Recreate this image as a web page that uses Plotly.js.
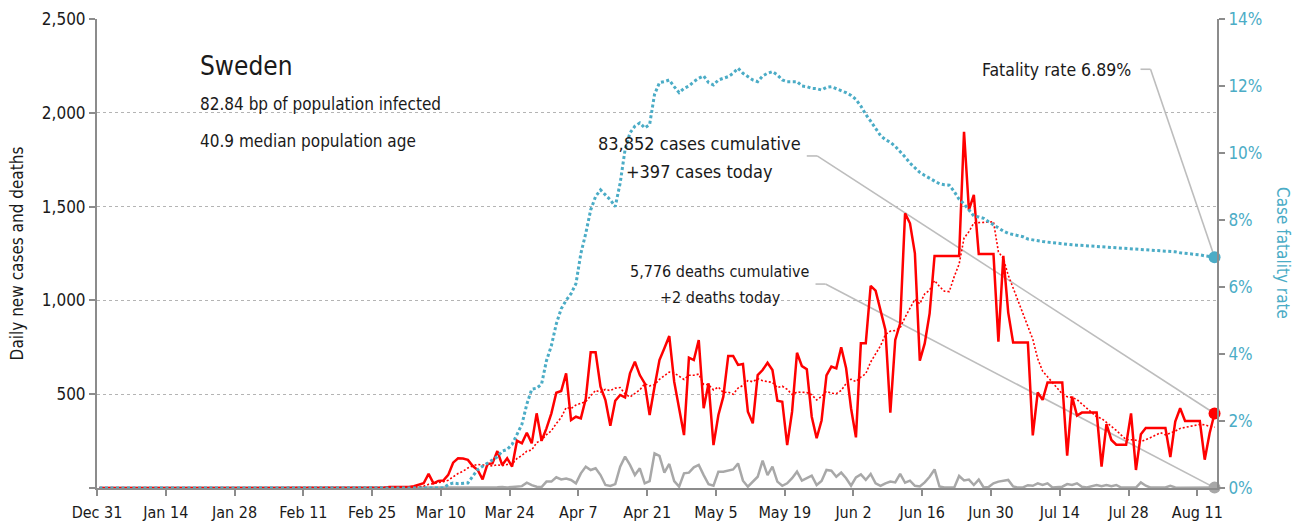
<!DOCTYPE html>
<html>
<head>
<meta charset="utf-8">
<script src="https://cdn.plot.ly/plotly-3.0.1.min.js"></script>
<style>html,body{margin:0;padding:0;background:#fff;}#chart{width:1314px;height:526px;}</style>
</head>
<body>
<div id="chart"></div>
<script>
// ---- Data (daily, starting 2019-12-31) ----
const startDate = '2019-12-31';

const dailyCases = [
  0,0,0,0,0,0,0,0,0,0,
  0,0,0,0,0,0,0,0,0,0,
  0,0,0,0,0,0,0,0,0,0,
  0,0,1,0,0,0,0,0,0,0,
  0,0,0,0,0,0,0,0,0,0,
  0,0,0,0,0,0,0,1,1,5,
  5,2,1,5,10,18,25,75,25,38,
  40,70,135,158,157,150,117,96,46,128,
  131,197,122,158,114,252,238,295,238,398,
  252,318,398,508,517,611,362,380,371,475,
  723,723,540,469,332,465,496,483,611,673,
  602,558,389,540,682,745,810,567,425,282,
  695,682,789,425,558,229,389,487,704,704,
  656,661,407,345,602,629,668,629,465,460,
  229,407,721,650,633,380,265,360,600,647,
  638,750,638,425,270,771,771,1077,1052,940,
  842,402,789,878,1464,1411,1251,679,771,931,
  1237,1237,1237,1237,1237,1237,1899,1482,1562,1247,
  1247,1247,1247,780,1237,935,775,775,775,775,
  280,510,470,563,563,563,563,173,487,386,
  402,402,402,402,114,340,256,231,231,231,
  398,96,287,320,320,320,320,320,165,354,
  425,357,357,357,357,151,292,397
];

const dailyDeaths = [
  0,0,0,0,0,0,0,0,0,0,
  0,0,0,0,0,0,0,0,0,0,
  0,0,0,0,0,0,0,0,0,0,
  0,0,0,0,0,0,0,0,0,0,
  0,0,0,0,0,0,0,0,0,0,
  0,0,0,0,0,0,0,0,0,0,
  0,0,0,0,0,0,0,0,0,0,
  0,1,0,1,0,1,2,3,1,3,
  2,4,5,3,5,7,10,28,15,7,
  5,34,34,57,46,50,43,25,78,114,
  96,105,69,16,11,21,114,167,123,69,
  105,25,37,185,171,82,128,37,7,78,
  82,110,123,69,20,12,87,87,92,99,
  131,39,7,34,60,146,69,114,34,12,
  25,52,87,39,52,66,16,37,96,92,
  60,82,52,12,57,73,43,75,25,11,
  25,34,30,75,28,39,12,8,30,60,
  99,8,3,2,2,64,40,45,16,45,
  3,5,25,34,39,43,8,2,3,15,
  12,25,16,25,3,7,7,21,16,25,
  7,3,10,16,10,16,10,16,2,1,
  3,2,30,12,2,1,1,3,12,3,
  1,1,5,1,1,3,1,2
];

const fatalityRate = [
  0,0,0,0,0,0,0,0,0,0,
  0,0,0,0,0,0,0,0,0,0,
  0,0,0,0,0,0,0,0,0,0,
  0,0,0,0,0,0,0,0,0,0,
  0,0,0,0,0,0,0,0,0,0,
  0,0,0,0,0,0,0,0,0,0,
  0,0,0,0,0,0,0,0,0,0,
  0,0.1,0.15,0.13,0.13,0.15,0.35,0.55,0.65,0.75,
  0.85,0.93,1.1,1.15,1.3,1.6,1.9,2.5,2.95,2.98,
  3.1,3.8,4.25,4.9,5.35,5.6,5.8,6.1,7.0,7.6,
  8.3,8.7,8.9,8.75,8.6,8.4,9.1,10.1,10.6,10.8,
  10.9,10.75,10.85,11.75,12.1,12.13,12.18,11.98,11.8,11.93,
  12.0,12.13,12.23,12.3,12.1,12.03,12.18,12.23,12.28,12.38,
  12.53,12.38,12.28,12.18,12.13,12.3,12.38,12.43,12.33,12.18,
  12.13,12.13,12.13,12.0,11.98,11.93,11.92,11.88,11.96,11.98,
  11.92,11.87,11.8,11.72,11.6,11.4,11.15,10.95,10.72,10.52,
  10.4,10.32,10.2,10.05,9.88,9.7,9.55,9.42,9.33,9.25,
  9.18,9.08,9.05,9.04,8.85,8.62,8.48,8.3,8.12,8.09,
  8.05,7.95,7.85,7.75,7.67,7.6,7.57,7.55,7.5,7.43,
  7.4,7.37,7.36,7.34,7.32,7.31,7.3,7.28,7.26,7.25,
  7.24,7.23,7.22,7.21,7.2,7.2,7.19,7.18,7.18,7.16,
  7.15,7.14,7.13,7.12,7.11,7.09,7.08,7.07,7.06,7.05,
  7.02,7.01,6.99,6.98,6.96,6.93,6.91,6.89
];

const tickDates = ['2019-12-31','2020-01-14','2020-01-28','2020-02-11','2020-02-25','2020-03-10','2020-03-24','2020-04-07','2020-04-21','2020-05-05','2020-05-19','2020-06-02','2020-06-16','2020-06-30','2020-07-14','2020-07-28','2020-08-11'];
const tickLabels = ['Dec 31','Jan 14','Jan 28','Feb 11','Feb 25','Mar 10','Mar 24','Apr 7','Apr 21','May 5','May 19','Jun 2','Jun 16','Jun 30','Jul 14','Jul 28','Aug 11'];
const leftTicks = [0,500,1000,1500,2000,2500];
const leftLabels = ['','500','1,000','1,500','2,000','2,500'];
const rightTicks = [0,2,4,6,8,10,12,14];
const rightLabels = ['0%','2%','4%','6%','8%','10%','12%','14%'];

// ---- derived: dates (one per day, plotted at midday) and trailing 7-day mean ----
const dates = dailyCases.map((_, i) => {
  const t = new Date(startDate + 'T12:00:00Z').getTime() + i * 86400000;
  return new Date(t).toISOString().slice(0, 16).replace('T', ' ');
});
const avg7 = dailyCases.map((_, i) => {
  const s = Math.max(0, i - 6);
  const w = dailyCases.slice(s, i + 1);
  return w.reduce((a, b) => a + b, 0) / w.length;
});
const n = dates.length - 1;
const lastDate = dates[n];

const FONT = "'Liberation Sans Narrow', 'DejaVu Sans Condensed', 'Arial Narrow', sans-serif";
const RED = '#ff0000', GREY = '#a8a8a8', BLUE = '#4bacc6', AX = '#8c8c8c', TXT = '#1a1a1a';

const traces = [
  {x: dates, y: dailyDeaths, type: 'scatter', mode: 'lines', line: {color: GREY, width: 2.5}, hoverinfo: 'skip'},
  {x: dates, y: fatalityRate, yaxis: 'y2', type: 'scatter', mode: 'lines', line: {color: BLUE, width: 3, dash: '3px,2.5px'}, hoverinfo: 'skip'},
  {x: dates, y: avg7, type: 'scatter', mode: 'lines', line: {color: RED, width: 1.6, dash: '2px,2px'}, hoverinfo: 'skip'},
  {x: dates, y: dailyCases, type: 'scatter', mode: 'lines', line: {color: RED, width: 2.5}, hoverinfo: 'skip'},
  {x: [lastDate], y: [dailyDeaths[n]], type: 'scatter', mode: 'markers', marker: {color: GREY, size: 12}, cliponaxis: false, hoverinfo: 'skip'},
  {x: [lastDate], y: [dailyCases[n]], type: 'scatter', mode: 'markers', marker: {color: RED, size: 12}, cliponaxis: false, hoverinfo: 'skip'},
  {x: [lastDate], y: [fatalityRate[n]], yaxis: 'y2', type: 'scatter', mode: 'markers', marker: {color: BLUE, size: 12}, cliponaxis: false, hoverinfo: 'skip'}
];

const leader = {color: '#bdbdbd', width: 1.6};
const shapes = [
  {type: 'line', xref: 'x', yref: 'y', x0: '2020-05-23 11:45', y0: 1770, x1: '2020-05-25 14:30', y1: 1770, line: leader, layer: 'below'},
  {type: 'line', xref: 'x', yref: 'y', x0: '2020-05-25 14:30', y0: 1770, x1: lastDate, y1: dailyCases[n], line: leader, layer: 'below'},
  {type: 'line', xref: 'x', yref: 'y', x0: '2020-05-25 06:30', y0: 1087, x1: '2020-05-27 07:12', y1: 1087, line: leader, layer: 'below'},
  {type: 'line', xref: 'x', yref: 'y', x0: '2020-05-27 07:12', y0: 1087, x1: lastDate, y1: dailyDeaths[n], line: leader, layer: 'below'},
  {type: 'line', xref: 'x', yref: 'y2', x0: '2020-07-30 10:19', y0: 12.5, x1: '2020-08-01 11:17', y1: 12.5, line: leader, layer: 'below'},
  {type: 'line', xref: 'x', yref: 'y2', x0: '2020-08-01 11:17', y0: 12.5, x1: lastDate, y1: fatalityRate[n], line: leader, layer: 'below'}
];

function note(text, x, y, size, xanchor, extra) {
  return Object.assign({text: text, xref: 'paper', yref: 'paper', x: x, y: y, xanchor: xanchor, yanchor: 'middle',
    showarrow: false, font: {family: FONT, size: size, color: TXT}}, extra || {});
}

const annotations = [
  note('Sweden', 0.0902, 0.8998, 26, 'left'),
  note('82.84 bp of population infected', 0.0902, 0.8188, 17, 'left'),
  note('40.9 median population age', 0.0902, 0.7399, 17, 'left'),
  note('83,852 cases cumulative', 0.5375, 0.7356, 18, 'center'),
  note('+397 cases today', 0.5375, 0.6759, 18, 'center'),
  note('5,776 deaths cumulative', 0.5563, 0.4606, 16, 'center'),
  note('+2 deaths today', 0.5563, 0.4072, 16, 'center'),
  note('Fatality rate 6.89%', 0.925, 0.8913, 17.5, 'right'),
  note('Case fatality rate', 1.0589, 0.501, 17, 'center', {textangle: 90, font: {family: FONT, size: 17, color: BLUE}})
];

const axisCommon = {showline: true, linecolor: AX, linewidth: 2, ticks: 'outside', ticklen: 6, tickwidth: 2, tickcolor: AX, zeroline: false, fixedrange: true};

const layout = {
  width: 1314, height: 526,
  margin: {l: 97, r: 97, t: 19, b: 38, pad: 0},
  paper_bgcolor: '#ffffff', plot_bgcolor: '#ffffff',
  showlegend: false,
  font: {family: FONT, size: 17, color: TXT},
  xaxis: Object.assign({}, axisCommon, {
    type: 'date', range: ['2019-12-31', '2020-08-15'],
    tickmode: 'array', tickvals: tickDates, ticktext: tickLabels,
    showgrid: false, tickfont: {family: FONT, size: 16, color: TXT}, ticklabelstandoff: 3
  }),
  yaxis: Object.assign({}, axisCommon, {
    range: [0, 2500], tickmode: 'array', tickvals: leftTicks, ticktext: leftLabels,
    showgrid: true, gridcolor: '#b4b4b4', gridwidth: 1, griddash: 'dot',
    tickfont: {family: FONT, size: 17, color: TXT},
    title: {text: 'Daily new cases and deaths', font: {family: FONT, size: 17, color: TXT}, standoff: 14}
  }),
  yaxis2: Object.assign({}, axisCommon, {
    overlaying: 'y', side: 'right', range: [0, 14],
    tickmode: 'array', tickvals: rightTicks, ticktext: rightLabels,
    showgrid: false, tickfont: {family: FONT, size: 17, color: BLUE}
  }),
  shapes: shapes,
  annotations: annotations
};

Plotly.newPlot('chart', traces, layout, {displayModeBar: false, staticPlot: true});
</script>
</body>
</html>
